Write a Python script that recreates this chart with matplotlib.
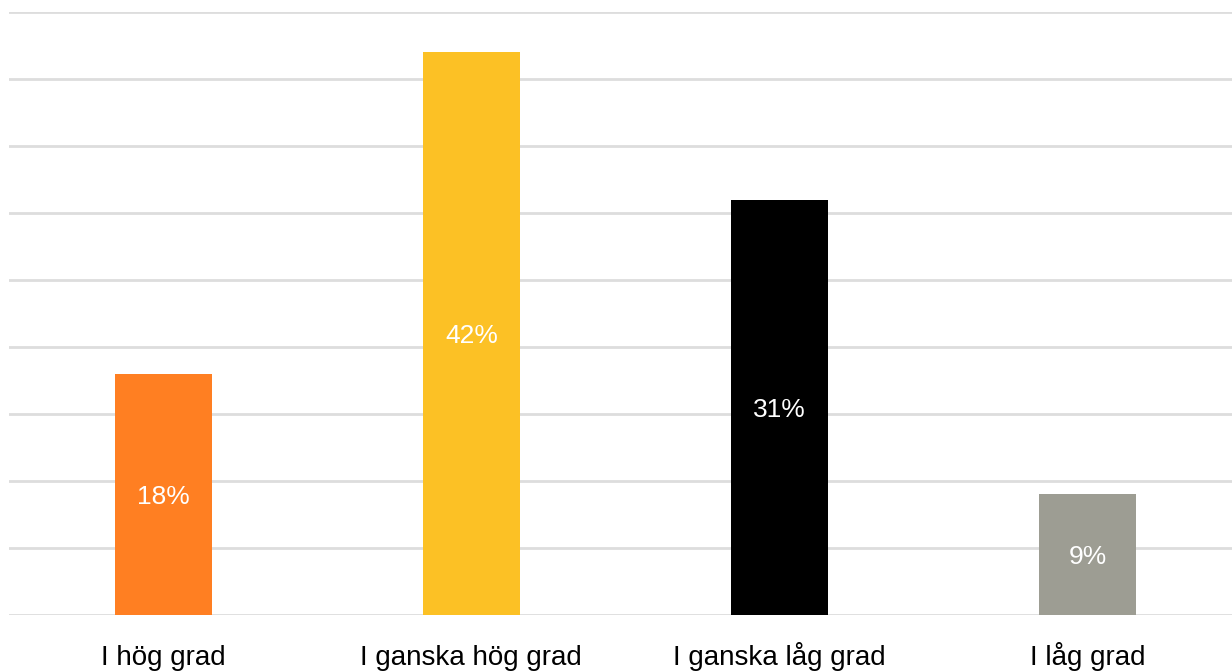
import matplotlib.pyplot as plt
import matplotlib.transforms as mtransforms
import numpy as np

categories = ["I hög grad", "I ganska hög grad", "I ganska låg grad", "I låg grad"]
values = [18, 42, 31, 9]
colors = ["#FF7F22", "#FCC125", "#000000", "#9D9D93"]

plt.rcParams['font.family'] = ['Liberation Sans', 'DejaVu Sans']

fig = plt.figure(figsize=(12.32, 6.71), dpi=100)
ax = fig.add_axes([9 / 1232, 56 / 671, 1233 / 1232, 603 / 671])

x = np.arange(len(categories))
bars = ax.bar(x, values, width=0.315, color=colors, zorder=3)

for b, v in zip(bars, values):
    ax.text(b.get_x() + b.get_width() / 2, v / 2, f"{v}%", ha='center', va='center_baseline',
            color='white', fontsize=19)

# category names share one baseline below the bars
trans = mtransforms.blended_transform_factory(ax.transData, fig.transFigure)
for xi, name in zip(x, categories):
    ax.text(xi, 6 / 671, name, ha='center', va='baseline', fontsize=20,
            transform=trans, clip_on=False)

ax.set_xlim(-0.5, len(categories) - 0.5)
ax.set_ylim(0, 45)
ax.set_yticks(np.arange(0, 46, 5))
ax.yaxis.grid(True, color='#DDDDDD', linewidth=2, zorder=0)
ax.set_yticklabels([])
ax.set_xticks([])
ax.tick_params(axis='y', length=0)
for s in ax.spines.values():
    s.set_visible(False)

fig.savefig("out.png", dpi=100)
